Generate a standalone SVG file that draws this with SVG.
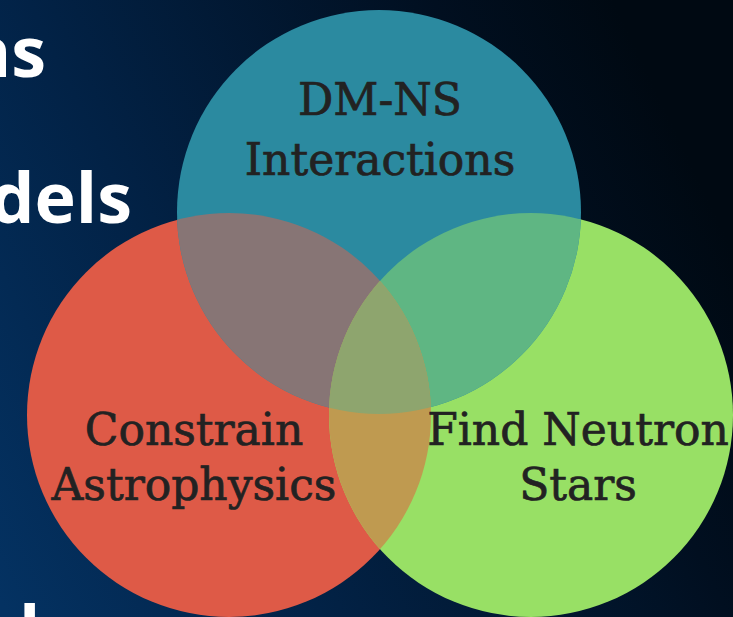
<svg xmlns="http://www.w3.org/2000/svg" width="733" height="617" viewBox="0 0 733 617">
  <defs>
    <linearGradient id="bg" gradientUnits="userSpaceOnUse" x1="0" y1="600" x2="733" y2="250">
      <stop offset="0" stop-color="#043262"/>
      <stop offset="0.35" stop-color="#022246"/>
      <stop offset="0.8" stop-color="#010f20"/>
      <stop offset="1" stop-color="#000912"/>
    </linearGradient>
    <clipPath id="cTeal"><circle cx="379" cy="212" r="202"/></clipPath>
    <clipPath id="cRed"><circle cx="229" cy="415" r="202"/></clipPath>
    <clipPath id="cGreen"><circle cx="531" cy="415" r="202"/></clipPath>
    <style>
      .side { font-family: "Open Sans", "Noto Sans", sans-serif; font-weight: 700; font-size: 70px; fill: #ffffff; }
      .lbl { font-family: "DejaVu Serif", "Liberation Serif", serif; font-size: 44px; fill: #222222; stroke: #222222; stroke-width: 0.7px; text-anchor: middle; }
    </style>
  </defs>
  <rect x="0" y="0" width="733" height="617" fill="url(#bg)"/>
  <g id="side-text">
    <text class="side" x="46" y="77" text-anchor="end">ns</text>
    <text class="side" x="132" y="223" text-anchor="end">dels</text>
    <text class="side" x="19" y="656">l</text>
  </g>
  <g id="node-astro">
    <circle cx="229" cy="415" r="202" fill="#de5a47"/>
  </g>
  <g id="node-find">
    <circle cx="531" cy="415" r="202" fill="#98e065"/>
  </g>
  <g id="node-dmns">
    <circle cx="379" cy="212" r="202" fill="#2b8aa0"/>
  </g>
  <g id="overlaps">
    <circle cx="229" cy="415" r="202" fill="#877575" clip-path="url(#cTeal)"/>
    <circle cx="531" cy="415" r="202" fill="#5fb683" clip-path="url(#cTeal)"/>
    <circle cx="229" cy="415" r="202" fill="#bf9a50" clip-path="url(#cGreen)"/>
    <g clip-path="url(#cTeal)">
      <circle cx="229" cy="415" r="202" fill="#8ea56e" clip-path="url(#cGreen)"/>
    </g>
  </g>
  <g id="labels">
    <text class="lbl" x="380" y="115">DM-NS</text>
    <text class="lbl" x="380" y="175">Interactions</text>
    <text class="lbl" x="194" y="445">Constrain</text>
    <text class="lbl" x="194" y="500">Astrophysics</text>
    <text class="lbl" x="578" y="445">Find Neutron</text>
    <text class="lbl" x="578" y="500">Stars</text>
  </g>
</svg>
